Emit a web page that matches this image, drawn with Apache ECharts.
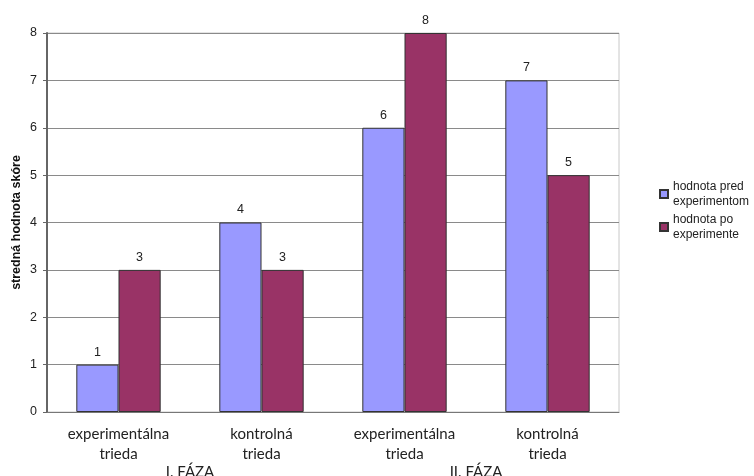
<!DOCTYPE html>
<html>
<head>
<meta charset="utf-8">
<script src="https://cdn.jsdelivr.net/npm/echarts@6/dist/echarts.min.js"></script>
<style>
  html, body { margin: 0; padding: 0; background: #fff; }
  #chart { width: 754px; height: 476px; }
</style>
</head>
<body>
<div id="chart"></div>
<script>
// Class categories and the phase each pair belongs to
const categories = ['experimentálna\ntrieda', 'kontrolná\ntrieda', 'experimentálna\ntrieda', 'kontrolná\ntrieda'];
const phases = ['I. FÁZA', 'II. FÁZA'];
// Mean score before and after the experiment
const seriesNames = ['hodnota pred\nexperimentom', 'hodnota po\nexperimente'];
const before = [1, 4, 6, 7];
const after = [3, 3, 8, 5];
const yTicks = { min: 0, max: 8, interval: 1 };
const yTitle = 'stredná hodnota skóre';

const chart = echarts.init(document.getElementById('chart'), null, { renderer: 'canvas' });

const barLabel = {
  show: true,
  position: 'top',
  distance: 6,
  fontFamily: 'Liberation Sans, Arial, sans-serif',
  fontSize: 12.5,
  color: '#222'
};

chart.setOption({
  animation: false,
  backgroundColor: '#fff',
  textStyle: { fontFamily: 'Liberation Sans, Arial, sans-serif' },
  grid: {
    left: 47, right: 135, top: 33, bottom: 64,
    outerBoundsMode: 'none',
    containLabel: false,
    show: true, borderColor: '#c8c8c8', borderWidth: 1, backgroundColor: 'transparent'
  },
  legend: {
    orient: 'vertical',
    left: 659,
    top: 179,
    padding: 0,
    itemWidth: 8,
    itemHeight: 8,
    itemGap: 3,
    icon: 'rect',
    textStyle: {
      fontFamily: 'Liberation Sans, Arial, sans-serif',
      fontSize: 12,
      lineHeight: 15,
      color: '#222'
    },
    data: seriesNames
  },
  xAxis: [
    {
      type: 'category',
      data: categories,
      position: 'bottom',
      axisLine: { show: true, lineStyle: { color: '#777', width: 1 } },
      axisTick: { show: false },
      axisLabel: {
        interval: 0,
        margin: 12,
        fontFamily: 'Lato, Open Sans, sans-serif',
        fontSize: 15,
        lineHeight: 20,
        color: '#222'
      }
    },
    {
      type: 'category',
      data: phases,
      position: 'bottom',
      axisLine: { show: false },
      axisTick: { show: false },
      splitLine: { show: false },
      axisLabel: {
        interval: 0,
        margin: 51,
        fontFamily: 'Lato, Open Sans, sans-serif',
        fontSize: 15,
        lineHeight: 18,
        color: '#222'
      }
    }
  ],
  yAxis: {
    type: 'value',
    min: yTicks.min,
    max: yTicks.max,
    interval: yTicks.interval,
    name: yTitle,
    nameLocation: 'middle',
    nameMoveOverlap: false,
    nameGap: 24,
    nameRotate: 90,
    nameTextStyle: {
      fontFamily: 'Liberation Sans, Arial, sans-serif',
      fontSize: 12.5,
      fontWeight: 'bold',
      color: '#111'
    },
    axisLine: { show: true, lineStyle: { color: '#666', width: 2 } },
    axisTick: { show: true, length: 4, lineStyle: { color: '#666' } },
    splitLine: { show: true, lineStyle: { color: '#8a8a8a', width: 1 } },
    axisLabel: {
      margin: 10,
      fontFamily: 'Liberation Sans, Arial, sans-serif',
      fontSize: 12.5,
      color: '#222'
    }
  },
  series: [
    {
      name: seriesNames[0],
      type: 'bar',
      data: before,
      barGap: '0%',
      barCategoryGap: '41%',
      itemStyle: { color: '#9999ff', borderColor: '#333', borderWidth: 1 },
      label: barLabel
    },
    {
      name: seriesNames[1],
      type: 'bar',
      data: after,
      barGap: '0%',
      barCategoryGap: '41%',
      itemStyle: { color: '#993366', borderColor: '#333', borderWidth: 1 },
      label: barLabel
    }
  ]
});
</script>
</body>
</html>
